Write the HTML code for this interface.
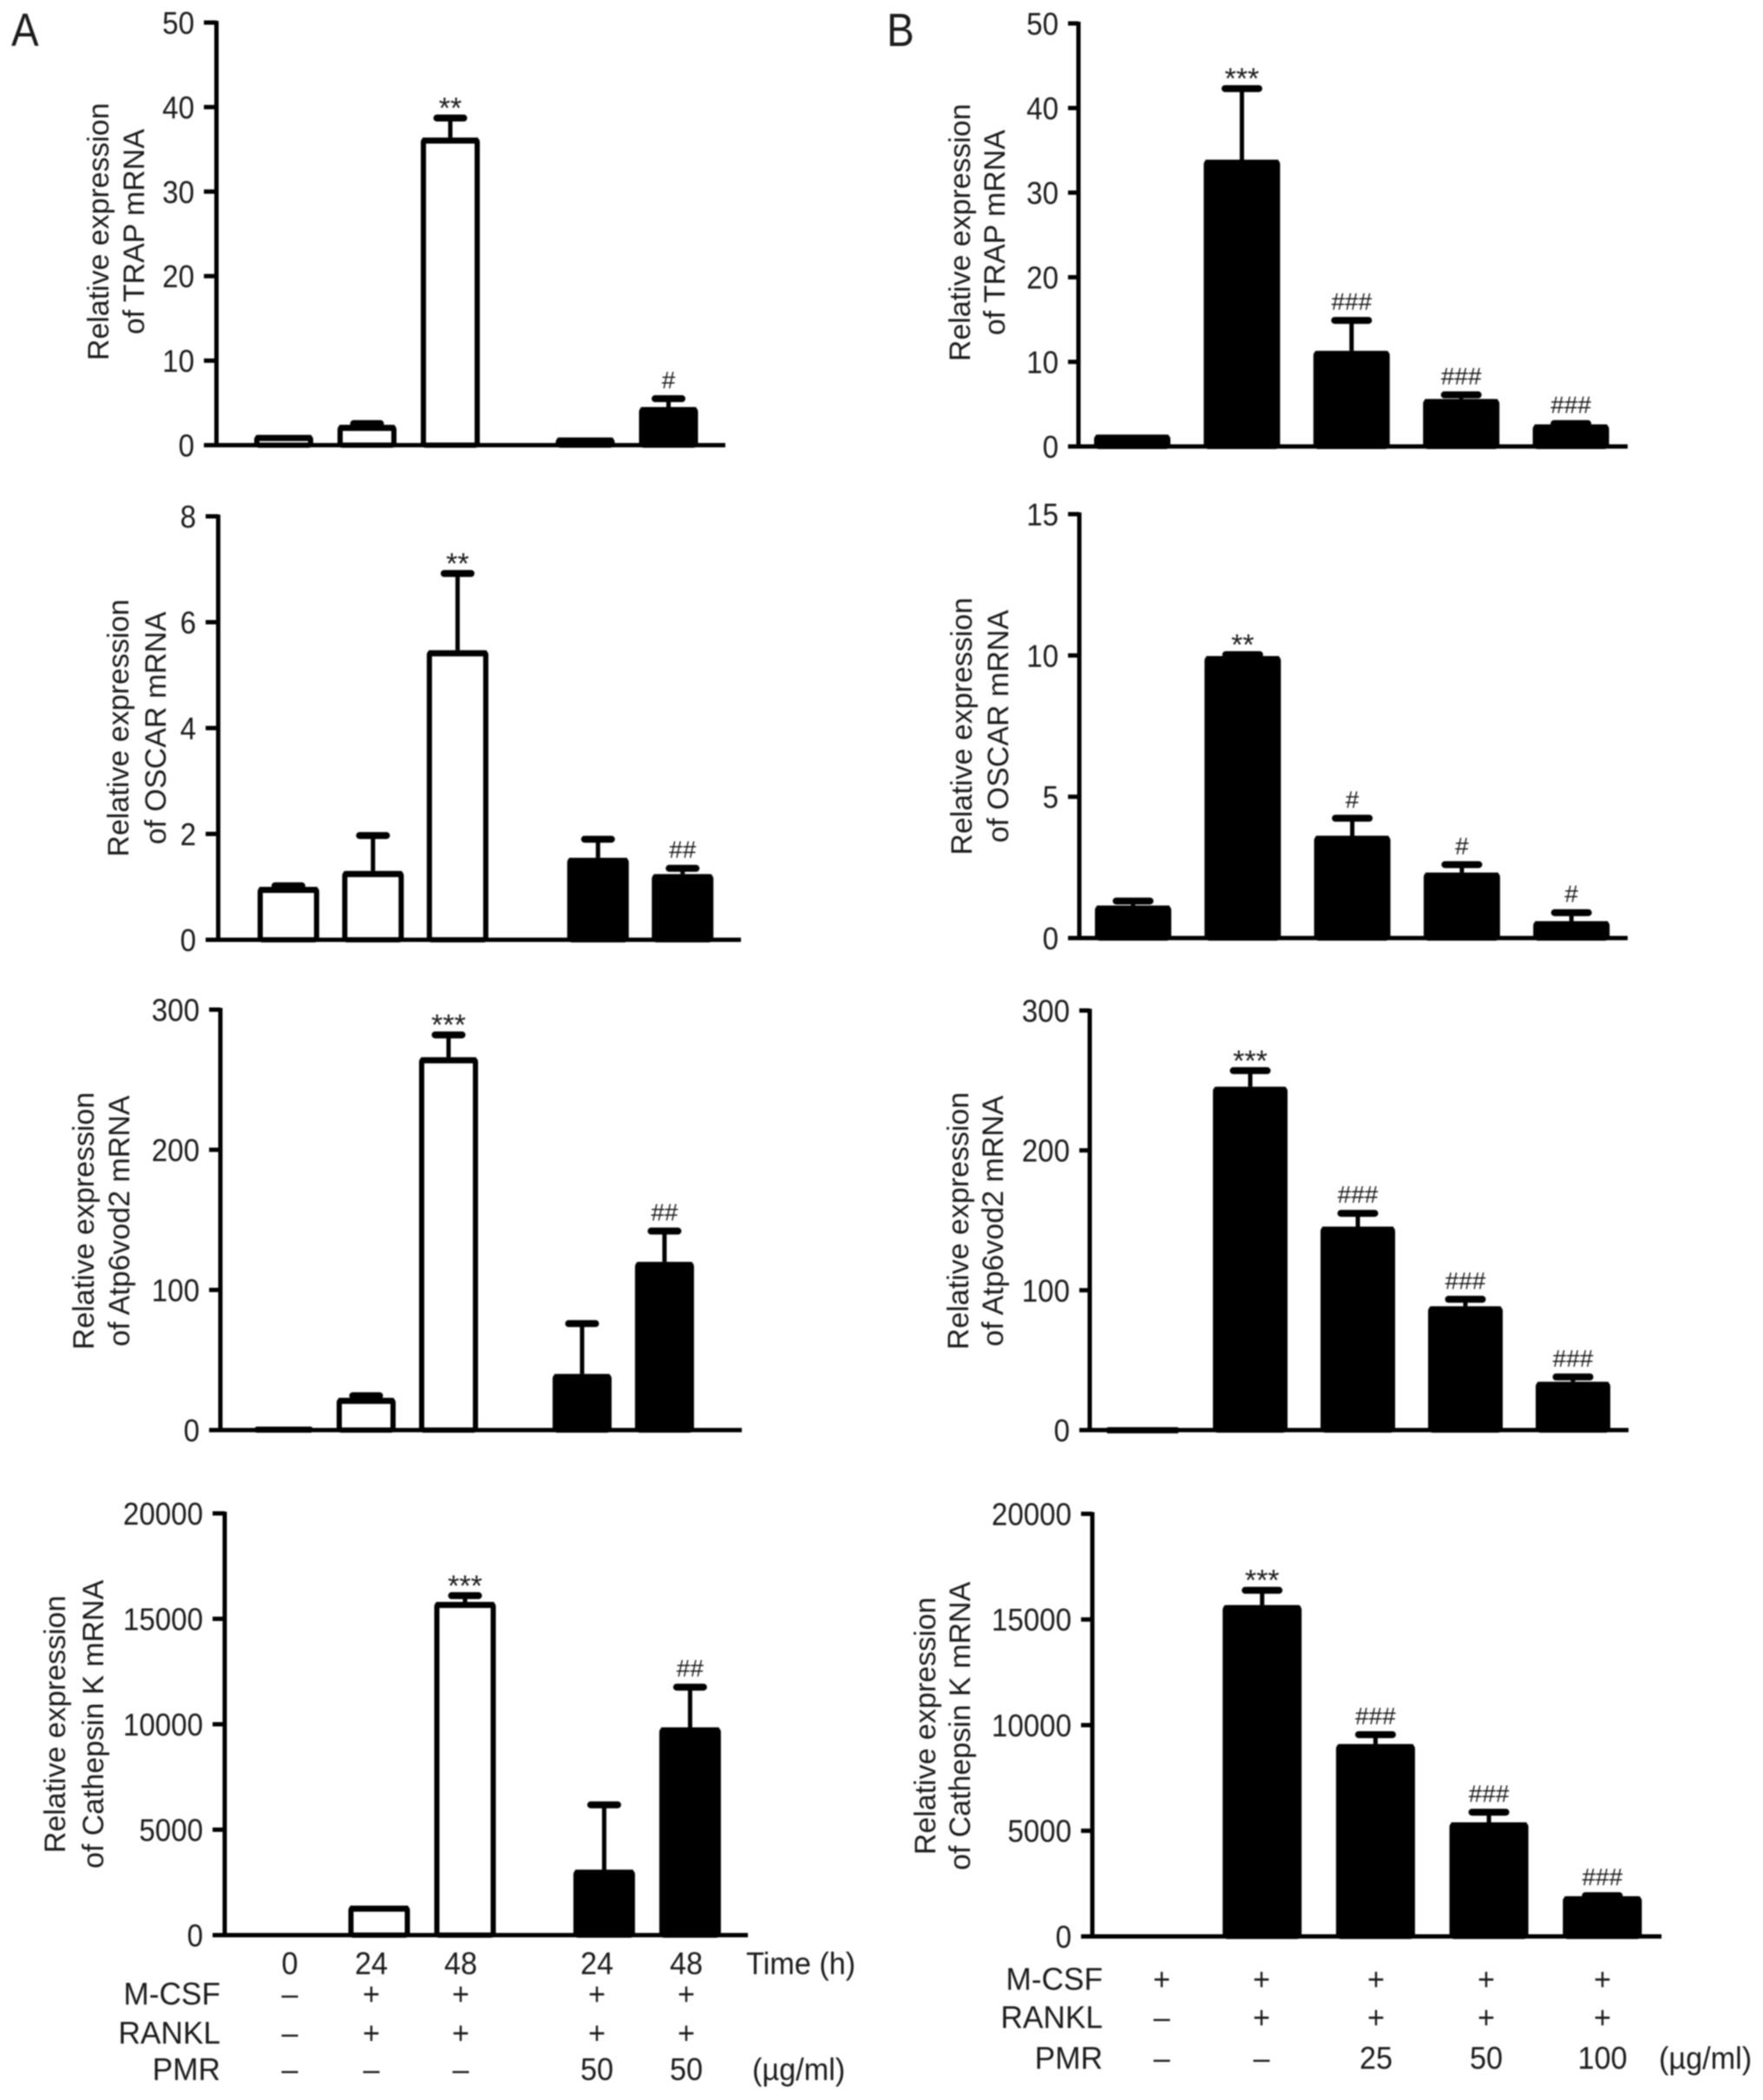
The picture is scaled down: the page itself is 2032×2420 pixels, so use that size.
<!DOCTYPE html>
<html lang="en">
<head>
<meta charset="utf-8">
<title>TRAP, OSCAR, Atp6v0d2 and Cathepsin K expression</title>
<style>
html,body{margin:0;padding:0;background:#fff;width:2032px;height:2420px;overflow:hidden}
svg{display:block;filter:blur(.9px)}
text{font-family:"Liberation Sans",Arial,sans-serif;fill:#1c1c1c}
.title{font-size:34px;text-anchor:middle}
.tick{font-size:36px;text-anchor:end;transform-box:fill-box;transform-origin:right center;transform:scaleX(.92)}
.row{font-size:36px;text-anchor:end;transform-box:fill-box;transform-origin:right center;transform:scaleX(.98)}
.cell{font-size:36px;text-anchor:middle;transform-box:fill-box;transform-origin:center;transform:scaleX(.95)}
.unit{font-size:36px;text-anchor:start;transform-box:fill-box;transform-origin:left center;transform:scaleX(.95)}
.panel{font-size:54px;transform-box:fill-box;transform-origin:left center;transform:scaleX(.88)}
</style>
</head>
<body>
<svg id="figure" xmlns="http://www.w3.org/2000/svg" width="2032" height="2420" viewBox="0 0 2032 2420">
  <rect width="2032" height="2420" fill="#fff"/>
  <text class="panel" x="13" y="53">A</text>
  <text class="panel" x="1022" y="53">B</text>

  <g>
    <text class="title" transform="translate(125 267) rotate(-90)">Relative expression</text>
    <text class="title" transform="translate(166 267) rotate(-90)">of TRAP mRNA</text>
    <text class="title" transform="translate(148 839) rotate(-90)">Relative expression</text>
    <text class="title" transform="translate(191 839) rotate(-90)">of OSCAR mRNA</text>
    <text class="title" transform="translate(108 1407) rotate(-90)">Relative expression</text>
    <text class="title" transform="translate(149 1407) rotate(-90)">of Atp6vod2 mRNA</text>
    <text class="title" transform="translate(75 1987) rotate(-90)">Relative expression</text>
    <text class="title" transform="translate(119 1987) rotate(-90)">of Cathepsin K mRNA</text>
    <text class="title" transform="translate(1118 268) rotate(-90)">Relative expression</text>
    <text class="title" transform="translate(1158 268) rotate(-90)">of TRAP mRNA</text>
    <text class="title" transform="translate(1120 837) rotate(-90)">Relative expression</text>
    <text class="title" transform="translate(1162 837) rotate(-90)">of OSCAR mRNA</text>
    <text class="title" transform="translate(1116 1407) rotate(-90)">Relative expression</text>
    <text class="title" transform="translate(1156 1407) rotate(-90)">of Atp6vod2 mRNA</text>
    <text class="title" transform="translate(1078 1989) rotate(-90)">Relative expression</text>
    <text class="title" transform="translate(1118 1989) rotate(-90)">of Cathepsin K mRNA</text>
  </g>

  <g id="charts"></g>

  <g>
    <text class="cell" x="334" y="2275">0</text>
    <text class="cell" x="428" y="2275">24</text>
    <text class="cell" x="531" y="2275">48</text>
    <text class="cell" x="688" y="2275">24</text>
    <text class="cell" x="791" y="2275">48</text>
    <text class="unit" x="860" y="2275">Time (h)</text>

    <text class="row" x="254" y="2310">M-CSF</text>
    <text class="cell" x="334" y="2310">–</text>
    <text class="cell" x="428" y="2310">+</text>
    <text class="cell" x="531" y="2310">+</text>
    <text class="cell" x="688" y="2310">+</text>
    <text class="cell" x="791" y="2310">+</text>

    <text class="row" x="254" y="2355">RANKL</text>
    <text class="cell" x="334" y="2355">–</text>
    <text class="cell" x="428" y="2355">+</text>
    <text class="cell" x="531" y="2355">+</text>
    <text class="cell" x="688" y="2355">+</text>
    <text class="cell" x="791" y="2355">+</text>

    <text class="row" x="254" y="2397">PMR</text>
    <text class="cell" x="334" y="2397">–</text>
    <text class="cell" x="428" y="2397">–</text>
    <text class="cell" x="531" y="2397">–</text>
    <text class="cell" x="688" y="2397">50</text>
    <text class="cell" x="791" y="2397">50</text>
    <text class="unit" x="867" y="2397">(µg/ml)</text>
  </g>

  <g>
    <text class="row" x="1271" y="2293">M-CSF</text>
    <text class="cell" x="1339" y="2293">+</text>
    <text class="cell" x="1454" y="2293">+</text>
    <text class="cell" x="1586" y="2293">+</text>
    <text class="cell" x="1713" y="2293">+</text>
    <text class="cell" x="1847" y="2293">+</text>

    <text class="row" x="1271" y="2337">RANKL</text>
    <text class="cell" x="1339" y="2337">–</text>
    <text class="cell" x="1454" y="2337">+</text>
    <text class="cell" x="1586" y="2337">+</text>
    <text class="cell" x="1713" y="2337">+</text>
    <text class="cell" x="1847" y="2337">+</text>

    <text class="row" x="1271" y="2384">PMR</text>
    <text class="cell" x="1339" y="2384">–</text>
    <text class="cell" x="1454" y="2384">–</text>
    <text class="cell" x="1586" y="2384">25</text>
    <text class="cell" x="1713" y="2384">50</text>
    <text class="cell" x="1847" y="2384">100</text>
    <text class="unit" x="1912" y="2384">(µg/ml)</text>
  </g>
</svg>

<script>
// ---- Categories and bar styles ----
const categoriesA = ['0h', '24h', '48h', '24h-pmr50', '48h-pmr50'];
const categoriesB = ['control', 'rankl', 'pmr25', 'pmr50', 'pmr100'];
const fillsA = ['open', 'open', 'open', 'solid', 'solid'];
const fillsB = ['solid', 'solid', 'solid', 'solid', 'solid'];

// ---- Panel A series ----
const trapATicks = [0, 10, 20, 30, 40, 50];
const trapAValues = [1.2, 2.4, 36.4, 0.9, 4.5];
const trapAErrors = [0, 0.15, 2.3, 0, 1.0];
const trapAMarks = ['', '', '**', '', '#'];

const oscarATicks = [0, 2, 4, 6, 8];
const oscarAValues = [1.0, 1.3, 5.47, 1.55, 1.24];
const oscarAErrors = [0.02, 0.67, 1.45, 0.35, 0.11];
const oscarAMarks = ['', '', '**', '', '##'];

const atpATicks = [0, 100, 200, 300];
const atpAValues = [2.5, 23, 266, 40, 120];
const atpAErrors = [0, 1.5, 16, 36, 22];
const atpAMarks = ['', '', '***', '', '##'];

const catkATicks = [0, 5000, 10000, 15000, 20000];
const catkAValues = [0, 1400, 15800, 3100, 9850];
const catkAErrors = [0, 0, 300, 3080, 1910];
const catkAMarks = ['', '', '***', '', '##'];

// ---- Panel B series ----
const trapBTicks = [0, 10, 20, 30, 40, 50];
const trapBValues = [1.4, 33.9, 11.3, 5.6, 2.6];
const trapBErrors = [0, 8.4, 3.6, 0.5, 0.1];
const trapBMarks = ['', '***', '###', '###', '###'];

const oscarBTicks = [0, 5, 10, 15];
const oscarBValues = [1.15, 9.98, 3.62, 2.32, 0.6];
const oscarBErrors = [0.16, 0.05, 0.62, 0.28, 0.3];
const oscarBMarks = ['', '**', '#', '#', '#'];

const atpBTicks = [0, 100, 200, 300];
const atpBValues = [2, 245.5, 145.5, 88.5, 34.5];
const atpBErrors = [0, 11.5, 9.5, 5, 3.5];
const atpBMarks = ['', '***', '###', '###', '###'];

const catkBTicks = [0, 5000, 10000, 15000, 20000];
const catkBValues = [0, 15680, 9100, 5400, 1900];
const catkBErrors = [0, 700, 450, 480, 30];
const catkBMarks = ['', '***', '###', '###', '###'];

// ---- Band slots: panel A leaves a gap before its PMR group ----
const slotsA = [0, 1, 2, 3.62, 4.62];
const slotsOscarA = [0, 1, 2, 3.66, 4.66];
const slotsB = [0, 1, 2, 3, 4];

const panels = [
  { id: 'trap-a', cats: categoriesA, fills: fillsA, slots: slotsA, ticks: trapATicks, values: trapAValues, errors: trapAErrors, marks: trapAMarks,
    frame: { axis: 249.5, left: 235, right: 836, top: 26, base: 513, start: 327, step: 96, bar: 68, cap: 39 } },
  { id: 'oscar-a', cats: categoriesA, fills: fillsA, slots: slotsOscarA, ticks: oscarATicks, values: oscarAValues, errors: oscarAErrors, marks: oscarAMarks,
    frame: { axis: 251.5, left: 237, right: 854, top: 595, base: 1083, start: 332.4, step: 97.5, bar: 71, cap: 39 } },
  { id: 'atp-a', cats: categoriesA, fills: fillsA, slots: slotsA, ticks: atpATicks, values: atpAValues, errors: atpAErrors, marks: atpAMarks,
    frame: { axis: 254, left: 241, right: 855, top: 1163.5, base: 1648, start: 327, step: 95, bar: 68, cap: 39 } },
  { id: 'catk-a', cats: categoriesA, fills: fillsA, slots: slotsA, ticks: catkATicks, values: catkAValues, errors: catkAErrors, marks: catkAMarks,
    frame: { axis: 259, left: 245, right: 862, top: 1744, base: 2230, start: 338, step: 99, bar: 71, cap: 39 } },
  { id: 'trap-b', cats: categoriesB, fills: fillsB, slots: slotsB, ticks: trapBTicks, values: trapBValues, errors: trapBErrors, marks: trapBMarks,
    frame: { axis: 1243, left: 1231, right: 1876, top: 27, base: 514.5, start: 1305, step: 126.4, bar: 88, cap: 47 } },
  { id: 'oscar-b', cats: categoriesB, fills: fillsB, slots: slotsB, ticks: oscarBTicks, values: oscarBValues, errors: oscarBErrors, marks: oscarBMarks,
    frame: { axis: 1244, left: 1231, right: 1876, top: 592.5, base: 1081, start: 1306, step: 126.3, bar: 88, cap: 47 } },
  { id: 'atp-b', cats: categoriesB, fills: fillsB, slots: slotsB, ticks: atpBTicks, values: atpBValues, errors: atpBErrors, marks: atpBMarks,
    frame: { axis: 1256, left: 1244, right: 1877, top: 1164.5, base: 1648, start: 1317, step: 124, bar: 86, cap: 47 } },
  { id: 'catk-b', cats: categoriesB, fills: fillsB, slots: slotsB, ticks: catkBTicks, values: catkBValues, errors: catkBErrors, marks: catkBMarks,
    frame: { axis: 1259, left: 1246, right: 1915, top: 1744.5, base: 2231.5, start: 1324, step: 130.7, bar: 91, cap: 47 } }
];

const NS = 'http://www.w3.org/2000/svg';
const INK = '#000';

function make(tag, props, parent) {
  const node = document.createElementNS(NS, tag);
  for (const key in props) node.setAttribute(key, props[key]);
  parent.appendChild(node);
  return node;
}

function drawPanel(panel) {
  const f = panel.frame;
  const domainMax = panel.ticks[panel.ticks.length - 1];
  const yScale = v => f.base - (v / domainMax) * (f.base - f.top);
  const xScale = i => f.start + panel.slots[i] * f.step;

  const group = make('g', {}, document.getElementById('charts'));
  
  

  panel.values.forEach((value, i) => {
    const cx = xScale(i);
    const topEdge = yScale(value);
    const errTop = yScale(value + panel.errors[i]);
    const cat = panel.cats[i];

    if (panel.errors[i] > 0) {
      const stem = make('line', { x1: cx, x2: cx, y1: topEdge, y2: errTop, stroke: INK, 'stroke-width': 5 }, group);
      
      
      const cap = make('line', { x1: cx - f.cap / 2 + 4, x2: cx + f.cap / 2 - 4, y1: errTop, y2: errTop, stroke: INK, 'stroke-width': 8, 'stroke-linecap': 'round' }, group);
      
      
    }

    if (value > 0) {
      const bar = make('rect', {
        x: cx - f.bar / 2 + 3,
        y: topEdge + 3,
        width: f.bar - 6,
        height: Math.max(0.5, f.base - topEdge - 3),
        rx: 2,
        fill: panel.fills[i] === 'solid' ? INK : '#fff',
        stroke: INK,
        'stroke-width': 6
      }, group);
      
      

      const lid = make('line', { x1: cx - f.bar / 2 + 2, x2: cx + f.bar / 2 - 2, y1: topEdge + 3.5, y2: topEdge + 3.5, stroke: INK, 'stroke-width': 7 }, group);
      
      
    }

    if (panel.marks[i]) {
      const isStar = panel.marks[i].charAt(0) === '*';
      const centre = errTop - (isStar ? 19 : 22);
      const mark = make('text', {
        x: cx,
        y: centre + (isStar ? 19 : 10),
        'text-anchor': 'middle',
        'font-size': isStar ? 34 : 28
      }, group);
      mark.textContent = panel.marks[i];
      
      
    }
  });

  const yAxis = make('line', { x1: f.axis, x2: f.axis, y1: f.top - 2, y2: f.base, stroke: INK, 'stroke-width': 5 }, group);
  
  

  const xAxis = make('line', { x1: f.left, x2: f.right, y1: f.base, y2: f.base, stroke: INK, 'stroke-width': 5 }, group);
  
  

  panel.ticks.forEach(t => {
    const ty = yScale(t);
    const tick = make('line', { x1: f.left, x2: f.axis, y1: ty, y2: ty, stroke: INK, 'stroke-width': 5 }, group);
    
    

    const label = make('text', { class: 'tick', x: f.left - 11, y: ty + 13 }, group);
    label.textContent = t;
    
    
  });
}

panels.forEach(drawPanel);
</script>
</body>
</html>
